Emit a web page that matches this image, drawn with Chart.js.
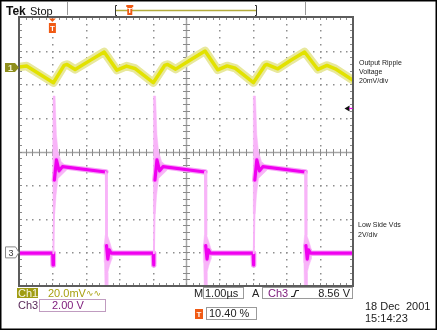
<!DOCTYPE html>
<html>
<head>
<meta charset="utf-8">
<title>Output ripple and low-side Vds</title>
<script src="https://cdn.jsdelivr.net/npm/chart.js@4/dist/chart.umd.min.js"></script>
<style>
  html, body { margin: 0; padding: 0; background: #ffffff; }
  #wrap { position: relative; width: 437px; height: 330px; }
  canvas { display: block; }
</style>
</head>
<body>
<div id="wrap"><canvas id="scope" width="437" height="330"></canvas></div>
<script>
// Horizontal: 1.00 µs/div, 10 divisions, trigger one division from the left.
const timeWindow = [-1, 9];
// CH1 window: 20 mV/div, 8 divisions, ground marker 2.5 div above centre.
const ch1Window = [-130, 30];
// CH3 window: 2 V/div, 8 divisions, ground marker 3 div below centre.
const ch3Window = [-2, 14];

// CH1 output ripple (µs, mV)
const ch1Time = [-1.00, -0.77, 0.03, 0.35, 0.44, 0.68, 1.13, 1.55, 1.93, 2.22, 2.47, 3.02,
                 3.36, 3.45, 3.69, 4.14, 4.57, 4.95, 5.23, 5.48, 6.02,
                 6.36, 6.42, 6.75, 7.15, 7.55, 7.95, 8.22, 8.47, 9.00];
const ch1mV   = [0.3, 0.8, -9.1, 1.2, 1.8, -1.2, 4.2, 9.2, -1.6, 0.8, -0.6, -9.1,
                 1.2, 1.8, -1.0, 4.6, 9.8, -1.4, 0.9, -0.5, -9.0,
                 1.2, 1.8, -0.8, 4.4, 9.2, -1.2, 1.2, -0.8, -7.6];

// CH3 low-side Vds (µs, V)
const ch3Time = [-1.00, 0.01, 0.02, 0.03, 0.06, 0.12, 0.20, 0.30, 1.60, 1.62, 1.66, 1.70, 1.76,
                 3.02, 3.03, 3.04, 3.07, 3.13, 3.21, 3.31, 4.57, 4.59, 4.63, 4.67, 4.73,
                 6.01, 6.02, 6.03, 6.06, 6.12, 6.20, 6.30, 7.57, 7.59, 7.63, 7.67, 7.73, 9.00];
const ch3Volts = [-0.05, -0.05, -0.75, -0.05, 4.3, 5.5, 4.85, 5.1, 4.78, 0.4, -0.4, 0.15, -0.05,
                  -0.05, -0.75, -0.05, 4.3, 5.5, 4.85, 5.1, 4.78, 0.4, -0.4, 0.15, -0.05,
                  -0.05, -0.75, -0.05, 4.3, 5.5, 4.85, 5.1, 4.78, 0.4, -0.4, 0.15, -0.05, -0.05];

// Switching edges of CH3 (µs)
const riseTimes = [0.03, 3.04, 6.03];
const fallTimes = [1.60, 4.57, 7.57];
// Ringing envelope outline after a rising edge (µs from edge, V)
const riseRingDt = [-0.01, -0.02, -0.01, 0.05, 0.09, 0.14, 0.23, 0.40, 0.40, 0.14, 0.08, 0.04];
const riseRingV  = [2.3, 6.0, 9.3, 9.3, 7.0, 6.0, 5.4, 5.1, 4.9, 4.4, 3.4, 2.3];
// Ringing envelope outline after a falling edge (µs from edge, V)
const fallRingDt = [-0.02, 0.05, 0.05, 0.12, 0.18, 0.18, 0.11, 0.06, 0.06, -0.02, -0.04, -0.05, -0.02];
const fallRingV  = [4.8, 4.8, 1.0, 0.6, 0.2, -0.4, -0.8, -1.2, -2.6, -2.6, -0.6, 0.4, 1.0];

// Readouts
const trigLevelV = 8.56;
const trigPosPct = 10.40;

const pts = (xs, ys) => xs.map((t, i) => ({ x: t, y: ys[i] }));
const ring = (t0, dts, vs) => dts.map((d, i) => ({ x: t0 + d, y: vs[i] }));

const PINK_CORE = '#f000f0', PINK_HALO = '#f6a2f6', PINK_RING = '#f8b4f8';
const YEL_CORE = '#e2e200', YEL_HALO = '#e8e89c';

// fast switching edges show up faint on the persistence display
const steep = ctx => Math.abs(ctx.p1.parsed.y - ctx.p0.parsed.y) > 1.5 && Math.abs(ctx.p1.parsed.x - ctx.p0.parsed.x) < 0.04;

const datasets = [
  { data: pts(ch1Time, ch1mV), yAxisID: 'y1', borderColor: YEL_CORE, borderWidth: 3.5 },
  { data: pts(ch1Time, ch1mV), yAxisID: 'y1', borderColor: YEL_HALO, borderWidth: 8.5 },
  { data: pts(ch3Time, ch3Volts), yAxisID: 'y3', borderColor: PINK_CORE, borderWidth: 3.2,
    segment: { borderColor: c => steep(c) ? PINK_RING : undefined, borderWidth: c => steep(c) ? 2 : undefined } },
  { data: pts(ch3Time, ch3Volts), yAxisID: 'y3', borderColor: PINK_HALO, borderWidth: 5.5,
    segment: { borderColor: c => steep(c) ? 'rgba(0,0,0,0)' : undefined } },
];
riseTimes.forEach(t0 => datasets.push({
  data: ring(t0, riseRingDt, riseRingV), yAxisID: 'y3', fill: 'shape', clip: 0,
  backgroundColor: PINK_RING, borderColor: PINK_RING, borderWidth: 0.5
}));
fallTimes.forEach(t0 => datasets.push({
  data: ring(t0, fallRingDt, fallRingV), yAxisID: 'y3', fill: 'shape', clip: 0,
  backgroundColor: PINK_RING, borderColor: PINK_RING, borderWidth: 0.5
}));

const X_DIVS = 10, Y_DIVS = 8, MINOR = 5;
const divX = (s, d) => Math.round(s.getPixelForValue(s.min + (s.max - s.min) * d / X_DIVS));
const divY = (s, d) => Math.round(s.getPixelForValue(s.max - (s.max - s.min) * d / Y_DIVS));

// Oscilloscope graticule: dotted divisions, ticked centre lines and frame
const graticule = {
  id: 'graticule',
  beforeDraw(chart) {
    const ctx = chart.ctx;
    ctx.save();
    ctx.fillStyle = '#ffffff';
    ctx.fillRect(0, 0, chart.width, chart.height);
    ctx.restore();
  },
  beforeDatasetsDraw(chart) {
    const { ctx, scales: { x, y3 } } = chart;
    const L = divX(x, 0), R = divX(x, X_DIVS), T = divY(y3, 0), B = divY(y3, Y_DIVS);
    const cx = divX(x, X_DIVS / 2), cy = divY(y3, Y_DIVS / 2);
    ctx.save();
    ctx.fillStyle = '#8e8e8e';
    for (let d = 1; d < X_DIVS; d++) {
      if (d === X_DIVS / 2) continue;
      const px = divX(x, d);
      for (let k = 1; k < Y_DIVS * MINOR; k++) ctx.fillRect(px, divY(y3, k / MINOR), 1.5, 1.5);
    }
    for (let d = 1; d < Y_DIVS; d++) {
      if (d === Y_DIVS / 2) continue;
      const py = divY(y3, d);
      for (let k = 1; k < X_DIVS * MINOR; k++) ctx.fillRect(divX(x, k / MINOR), py, 1.5, 1.5);
    }
    // centre cross
    ctx.strokeStyle = '#a6a6a6';
    ctx.lineWidth = 1.5;
    ctx.beginPath();
    ctx.moveTo(L, cy + 0.5); ctx.lineTo(R, cy + 0.5);
    ctx.moveTo(cx + 0.5, T); ctx.lineTo(cx + 0.5, B);
    ctx.stroke();
    ctx.strokeStyle = '#8a8a8a';
    ctx.lineWidth = 1;
    ctx.beginPath();
    for (let k = 1; k < X_DIVS * MINOR; k++) {
      const px = divX(x, k / MINOR) + 0.5;
      ctx.moveTo(px, cy - 3); ctx.lineTo(px, cy + 4);
      ctx.moveTo(px, T); ctx.lineTo(px, T + 3);
      ctx.moveTo(px, B); ctx.lineTo(px, B - 3);
    }
    for (let k = 1; k < Y_DIVS * MINOR; k++) {
      const py = divY(y3, k / MINOR) + 0.5;
      ctx.moveTo(cx - 3, py); ctx.lineTo(cx + 4, py);
      ctx.moveTo(L, py); ctx.lineTo(L + 3, py);
      ctx.moveTo(R, py); ctx.lineTo(R - 3, py);
    }
    ctx.stroke();
    ctx.restore();
  },
  afterDatasetsDraw(chart) {
    const { ctx, scales: { x, y3 } } = chart;
    const L = divX(x, 0), R = divX(x, X_DIVS), T = divY(y3, 0), B = divY(y3, Y_DIVS);
    ctx.save();
    ctx.strokeStyle = '#5c5c5c';
    ctx.lineWidth = 2;
    ctx.strokeRect(L, T, R - L, B - T);
    ctx.restore();
  }
};

function tIcon(ctx, left, top, w, h) {
  ctx.fillStyle = '#f05a14';
  ctx.fillRect(left, top, w, h);
  ctx.fillStyle = '#ffffff';
  ctx.font = 'bold 8px "Liberation Sans", Arial, sans-serif';
  ctx.textAlign = 'center';
  ctx.textBaseline = 'middle';
  ctx.fillText('T', left + w / 2, top + h / 2 + 0.5);
  ctx.textAlign = 'left';
  ctx.textBaseline = 'alphabetic';
}

// Screen annotations: status bar, channel markers, labels and readouts
const readouts = {
  id: 'readouts',
  afterDraw(chart) {
    const { ctx, scales: { x, y1, y3 } } = chart;
    const SANS = '"Liberation Sans", "DejaVu Sans", Arial, sans-serif';
    ctx.save();

    // status line
    ctx.fillStyle = '#111';
    ctx.font = 'bold 12px ' + SANS;
    ctx.fillText('Tek', 6, 15);
    ctx.font = '11px ' + SANS;
    ctx.fillText('Stop', 30, 15);
    ctx.strokeStyle = '#9a9a9a';
    ctx.lineWidth = 1;
    ctx.beginPath();
    ctx.moveTo(67.5, 2); ctx.lineTo(67.5, 15);
    ctx.moveTo(305.5, 2); ctx.lineTo(305.5, 15);
    ctx.stroke();

    // record bar with trigger position
    const barL = 115, barR = 257;
    ctx.strokeStyle = '#333';
    ctx.beginPath();
    ctx.moveTo(barL + 2, 5.5); ctx.lineTo(barL + 0.5, 5.5); ctx.lineTo(barL + 0.5, 15.5); ctx.lineTo(barL + 2, 15.5);
    ctx.moveTo(barR - 2, 5.5); ctx.lineTo(barR - 0.5, 5.5); ctx.lineTo(barR - 0.5, 15.5); ctx.lineTo(barR - 2, 15.5);
    ctx.stroke();
    ctx.strokeStyle = '#b4ac3c';
    ctx.lineWidth = 1.5;
    ctx.beginPath();
    ctx.moveTo(barL + 1, 10.5); ctx.lineTo(barR - 1, 10.5);
    ctx.stroke();
    const tpos = barL + (barR - barL) * trigPosPct / 100;
    ctx.fillStyle = '#f05a14';
    ctx.fillRect(tpos - 3.5, 5, 7, 2);
    tIcon(ctx, tpos - 2.5, 6, 5, 9);

    // trigger point marker
    const tx = x.getPixelForValue(0);
    ctx.fillStyle = '#f05a14';
    ctx.beginPath();
    ctx.moveTo(tx - 3.5, 18.5); ctx.lineTo(tx + 3.5, 18.5); ctx.lineTo(tx, 22);
    ctx.closePath(); ctx.fill();
    tIcon(ctx, tx - 3.5, 23, 7, 10);

    // channel ground markers
    const g1 = y1.getPixelForValue(0);
    ctx.fillStyle = '#8e8e1c';
    ctx.beginPath();
    ctx.moveTo(5, g1 - 4.5); ctx.lineTo(15, g1 - 4.5); ctx.lineTo(19, g1); ctx.lineTo(15, g1 + 4.5); ctx.lineTo(5, g1 + 4.5);
    ctx.closePath(); ctx.fill();
    ctx.fillStyle = '#f2f2d0';
    ctx.font = 'bold 9px ' + SANS;
    ctx.textAlign = 'center';
    ctx.fillText('1', 10.5, g1 + 3.5);

    const g3 = y3.getPixelForValue(0);
    ctx.fillStyle = '#ffffff';
    ctx.strokeStyle = '#8a8a8a';
    ctx.lineWidth = 1;
    ctx.beginPath();
    ctx.moveTo(5.5, g3 - 5.5); ctx.lineTo(15.5, g3 - 5.5); ctx.lineTo(19, g3); ctx.lineTo(15.5, g3 + 5.5); ctx.lineTo(5.5, g3 + 5.5);
    ctx.closePath(); ctx.fill(); ctx.stroke();
    ctx.fillStyle = '#3a3a3a';
    ctx.font = '9px ' + SANS;
    ctx.fillText('3', 11, g3 + 3.5);
    ctx.textAlign = 'left';

    // trigger level arrow (CH3 scale)
    const ty = y3.getPixelForValue(trigLevelV);
    ctx.fillStyle = '#111';
    ctx.beginPath();
    ctx.moveTo(344.5, ty); ctx.lineTo(349.5, ty - 3); ctx.lineTo(349.5, ty + 3);
    ctx.closePath(); ctx.fill();
    ctx.strokeStyle = PINK_CORE;
    ctx.lineWidth = 1.2;
    ctx.beginPath();
    ctx.moveTo(349, ty); ctx.lineTo(352.5, ty);
    ctx.stroke();

    // trace labels
    ctx.fillStyle = '#222';
    ctx.font = '7px ' + SANS;
    ctx.fillText('Output Ripple', 359, 65);
    ctx.fillText('Voltage', 359, 74);
    ctx.fillText('20mV/div', 359, 83);
    ctx.fillText('Low Side Vds', 358, 227);
    ctx.fillText('2V/div', 358, 237);

    // bottom readouts
    ctx.font = '11px ' + SANS;
    ctx.fillStyle = '#a09c12';
    ctx.fillRect(17, 288, 21, 10);
    ctx.fillStyle = '#f6f6e0';
    ctx.fillText('Ch1', 18, 297);
    ctx.fillStyle = '#a8a010';
    ctx.fillText('20.0mV', 48, 297);
    ctx.font = '9px "DejaVu Sans", sans-serif';
    ctx.fillText('\u223F\u223F', 86, 296);
    ctx.font = '11px ' + SANS;

    ctx.strokeStyle = '#c09cc0';
    ctx.lineWidth = 1;
    ctx.strokeRect(39.5, 299.5, 66, 12);
    ctx.fillStyle = '#5a2a5a';
    ctx.fillText('Ch3', 18, 309);
    ctx.fillStyle = '#80207e';
    ctx.fillText('2.00 V', 52, 309);

    ctx.fillStyle = '#222';
    ctx.fillText('M', 194, 297);
    ctx.strokeStyle = '#9a9a9a';
    ctx.strokeRect(203.5, 287.5, 40, 11);
    ctx.fillText('1.00\u00B5s', 205, 297);

    ctx.fillText('A', 252, 297);
    ctx.strokeRect(262.5, 287.5, 90, 11);
    ctx.fillStyle = '#80207e';
    ctx.fillText('Ch3', 268, 297);
    ctx.strokeStyle = '#222';
    ctx.lineWidth = 1.2;
    ctx.beginPath();
    ctx.moveTo(291, 296.5); ctx.lineTo(294, 296.5); ctx.lineTo(296, 290.5); ctx.lineTo(299, 290.5);
    ctx.stroke();
    ctx.fillStyle = '#222';
    ctx.textAlign = 'right';
    ctx.fillText(trigLevelV.toFixed(2) + ' V', 350, 297);
    ctx.textAlign = 'left';

    tIcon(ctx, 195, 309, 8, 10);
    ctx.font = '11px ' + SANS;
    ctx.strokeStyle = '#9a9a9a';
    ctx.lineWidth = 1;
    ctx.strokeRect(206.5, 307.5, 50, 12);
    ctx.fillStyle = '#222';
    ctx.fillText(trigPosPct.toFixed(2) + ' %', 209, 317);

    ctx.fillText('18 Dec  2001', 365, 310);
    ctx.fillText('15:14:23', 365, 322);

    // screen frame
    ctx.strokeStyle = '#000';
    ctx.lineWidth = 1.5;
    ctx.strokeRect(0.75, 0.75, chart.width - 1.5, chart.height - 1.5);
    ctx.restore();
  }
};

new Chart(document.getElementById('scope'), {
  type: 'line',
  data: { datasets },
  options: {
    responsive: false,
    maintainAspectRatio: false,
    devicePixelRatio: 1,
    animation: false,
    events: [],
    parsing: true,
    elements: { point: { radius: 0 }, line: { tension: 0, borderCapStyle: 'round', borderJoinStyle: 'round' } },
    layout: { padding: { left: 19, right: 84, top: 17, bottom: 44 } },
    scales: {
      x: { type: 'linear', min: timeWindow[0], max: timeWindow[1], display: false },
      y1: { type: 'linear', min: ch1Window[0], max: ch1Window[1], display: false },
      y3: { type: 'linear', min: ch3Window[0], max: ch3Window[1], display: false }
    },
    plugins: { legend: { display: false }, tooltip: { enabled: false } }
  },
  plugins: [graticule, readouts]
});
</script>
</body>
</html>
